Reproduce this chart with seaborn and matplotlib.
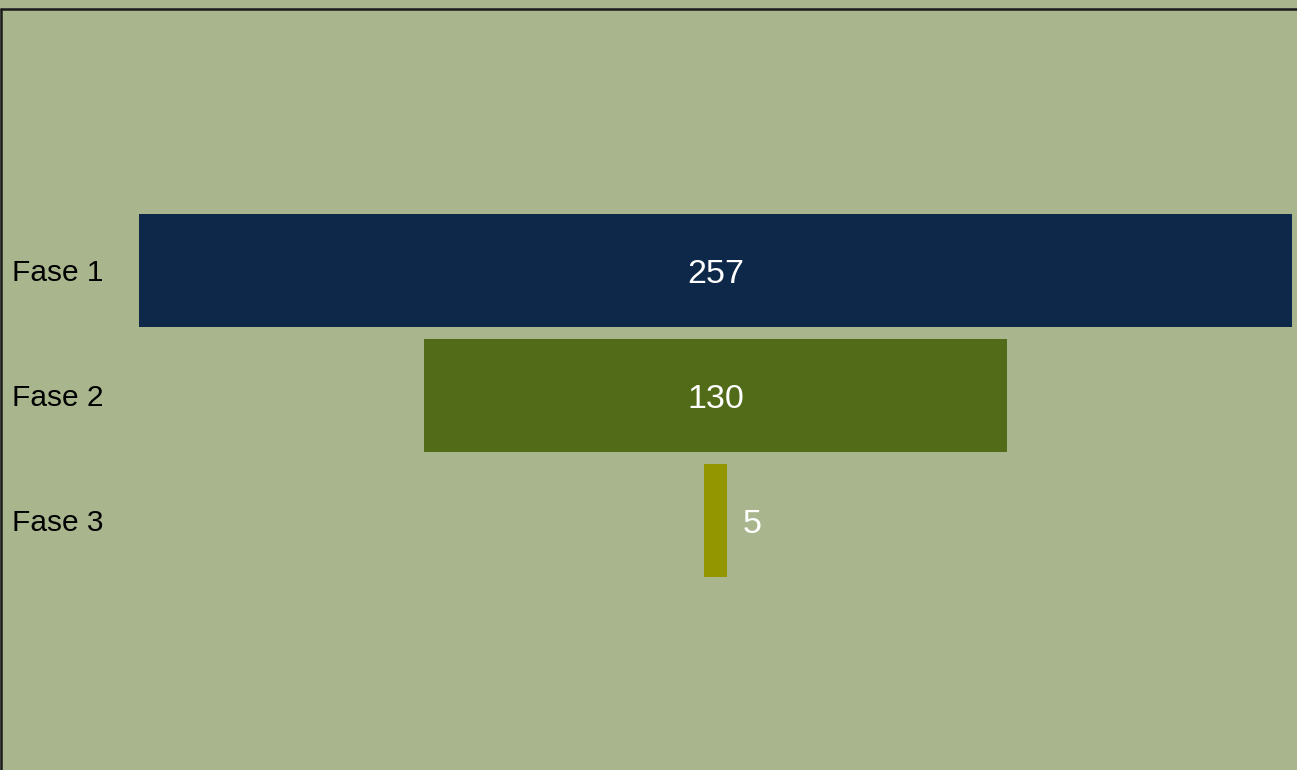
import numpy as np
import pandas as pd
import seaborn as sns
from matplotlib import pyplot as plt
from matplotlib.lines import Line2D
from matplotlib.transforms import blended_transform_factory, offset_copy

stages = ["Fase 1", "Fase 2", "Fase 3"]
counts = [257, 130, 5]
bar_colors = ["#0E2849", "#526B19", "#949600"]
bg = "#A9B68D"

sns.set_theme(style="white")
plt.rcParams['font.family'] = ['Liberation Sans', 'DejaVu Sans']

df = pd.DataFrame({"stage": stages, "count": counts})
df["half"] = df["count"] / 2

W, H = 1297, 770
fig = plt.figure(figsize=(W / 100, H / 100), dpi=100, facecolor=bg)
ax = fig.add_axes([139 / W, 1 - 577 / H, 1153 / W, (577 - 214) / H])
ax.set_facecolor(bg)

# funnel: each bar drawn as two halves mirrored around zero
for sign in (1, -1):
    sns.barplot(data=df.assign(x=sign * df["half"]), x="x", y="stage",
                hue="stage", palette=bar_colors, legend=False,
                orient="h", width=0.904, linewidth=0, saturation=1, ax=ax)

half_max = max(counts) / 2
ax.set_xlim(-half_max, half_max)
ax.set_ylim(len(stages) - 1 + 0.452, -0.452)
ax.set_xticks([])
ax.set_yticks([])
ax.set_xlabel("")
ax.set_ylabel("")
for s in ax.spines.values():
    s.set_visible(False)

label_fs, value_fs = 21.5, 24.5
trans = blended_transform_factory(fig.transFigure, ax.transData)
trans = offset_copy(trans, fig=fig, y=-label_fs * 0.716 / 2 * 100 / 72, units="dots")
for i, (name, v) in enumerate(zip(stages, counts)):
    ax.text(12 / W, i, name, transform=trans, ha="left", va="baseline",
            fontsize=label_fs, color="black")
    dy = -value_fs * 0.716 / 2 * 100 / 72
    if v > 20:
        ax.annotate(str(v), xy=(0, i), xytext=(0, dy),
                    textcoords="offset pixels", ha="center", va="baseline",
                    fontsize=value_fs, color="white")
    else:
        ax.annotate(str(v), xy=(v / 2, i), xytext=(16, dy),
                    textcoords="offset pixels", ha="left", va="baseline",
                    fontsize=value_fs, color="white")

# frame lines at top and left edge
fig.add_artist(Line2D([1 / W, 1], [1 - 9 / H, 1 - 9 / H], color="#1a1a1a",
                      lw=1.8, transform=fig.transFigure))
fig.add_artist(Line2D([1 / W, 1 / W], [0, 1 - 9 / H], color="#1a1a1a",
                      lw=1.8, transform=fig.transFigure))

fig.savefig("out.png", dpi=100, facecolor=bg)
